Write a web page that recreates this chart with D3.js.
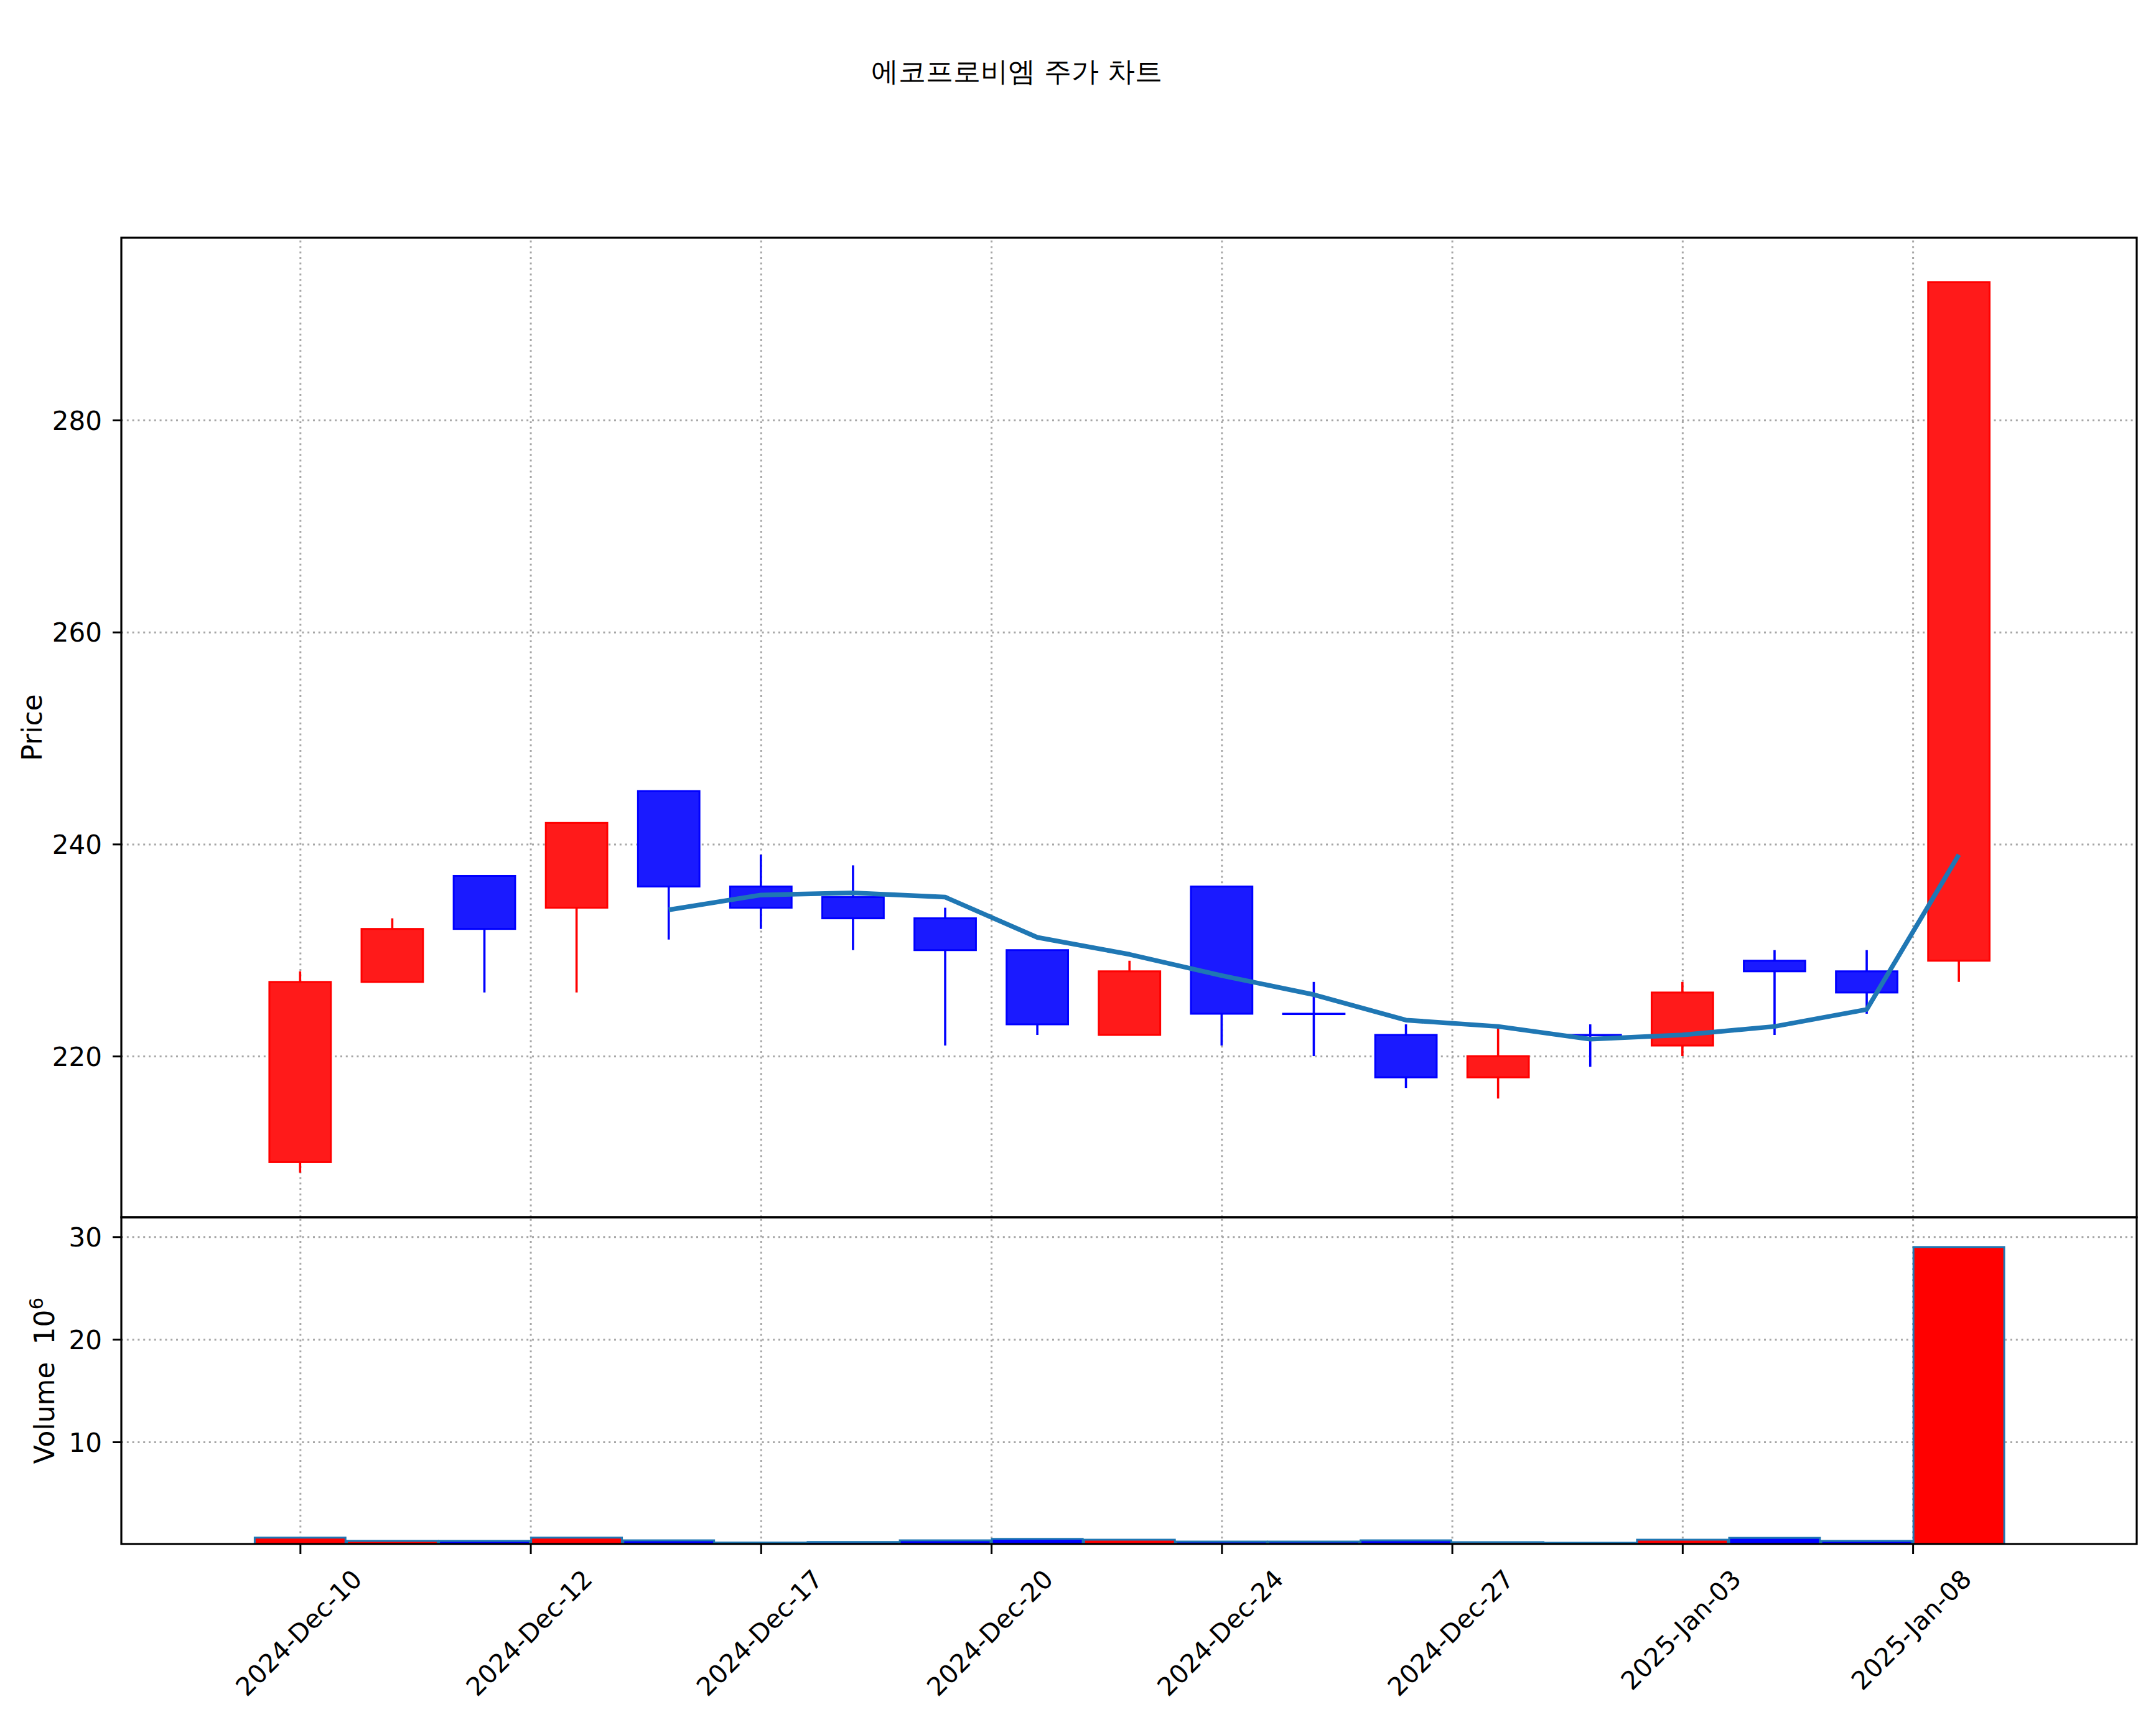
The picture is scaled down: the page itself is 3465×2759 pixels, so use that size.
<!DOCTYPE html>
<html><head><meta charset="utf-8">
<script src="https://cdn.jsdelivr.net/npm/d3@7"></script>
<style>
html,body{margin:0;padding:0;background:#fff;}
svg{display:block;}
text{font-family:"DejaVu Sans", sans-serif; fill:#000;}
</style></head><body>
<svg id="chart" width="3465" height="2759"></svg>
<script>
// ---------------- data ----------------
const titleText = "에코프로비엠 주가 차트";
const dates = ["2024-12-10","2024-12-11","2024-12-12","2024-12-13","2024-12-16","2024-12-17","2024-12-18",
  "2024-12-19","2024-12-20","2024-12-23","2024-12-24","2024-12-26","2024-12-27","2024-12-30",
  "2025-01-02","2025-01-03","2025-01-06","2025-01-07","2025-01-08"];
const opens  = [210,227,237,234,245,236,235,233,230,222,236,224,222,218,222,221,229,228,229];
const highs  = [228,233,237,242,245,239,238,234,230,229,236,227,223,223,223,227,230,230,293];
const lows   = [209,227,226,226,231,232,230,221,222,222,221,220,217,216,219,220,222,224,227];
const closes = [227,232,232,242,236,234,233,230,223,228,224,224,218,220,222,226,228,226,293];
const volumes = [0.67,0.35,0.35,0.67,0.41,0.19,0.25,0.41,0.55,0.47,0.29,0.29,0.41,0.23,0.17,0.47,0.65,0.35,29.0]; // x10^6
const ma5 = [null,null,null,null,233.8,235.2,235.4,235.0,231.2,229.6,227.6,225.8,223.4,222.8,221.6,222.0,222.8,224.4,239.0];
const xTickPos = [0,2.5,5,7.5,10,12.5,15,17.5];
const xTickLabels = ["2024-Dec-10","2024-Dec-12","2024-Dec-17","2024-Dec-20","2024-Dec-24","2024-Dec-27","2025-Jan-03","2025-Jan-08"];
const priceTicks = [220,240,260,280];
const volumeTicks = [10,20,30];

// ---------------- layout ----------------
const W = 3465, H = 2759;
const L = 195, R = 3434, T1 = 382, B1 = 1956, T2 = 1956, B2 = 2481;
const svg = d3.select("#chart");
svg.append("rect").attr("width", W).attr("height", H).attr("fill", "#fff");

const n = opens.length;
const idx = d3.range(n);
const pr = d3.max(highs) - d3.min(lows);
const x = d3.scaleLinear().domain([-1.94, 19.93]).range([L, R]);
const yP = d3.scaleLinear().domain([d3.min(lows) - 0.05 * pr, d3.max(highs) + 0.05 * pr]).range([B1, T1]);
const yV = d3.scaleLinear().domain([0.3 * d3.min(volumes), 1.1 * d3.max(volumes)]).range([B2, T2]);

const up = i => closes[i] > opens[i];
const edgeCol = i => up(i) ? "#ff0000" : "#0000ff";
const bodyFill = i => up(i) ? "#ff1a1a" : "#1a1aff";

const defs = svg.append("defs");
defs.append("clipPath").attr("id", "clipP").append("rect").attr("x", L).attr("y", T1).attr("width", R - L).attr("height", B1 - T1);
defs.append("clipPath").attr("id", "clipV").append("rect").attr("x", L).attr("y", T2).attr("width", R - L).attr("height", B2 - T2);

const gridStyle = g => {
  g.select(".domain").remove();
  g.selectAll("text").remove();
  g.selectAll("line").attr("stroke", "#a6a6a6").attr("stroke-width", 3).attr("stroke-dasharray", "3 5.8");
};

// grids
svg.append("g").attr("transform", `translate(${L},0)`)
  .call(d3.axisLeft(yP).tickValues(priceTicks).tickSize(-(R - L))).call(gridStyle);
svg.append("g").attr("transform", `translate(0,${B1})`)
  .call(d3.axisBottom(x).tickValues(xTickPos).tickSize(-(B1 - T1))).call(gridStyle);
svg.append("g").attr("transform", `translate(${L},0)`)
  .call(d3.axisLeft(yV).tickValues(volumeTicks).tickSize(-(R - L))).call(gridStyle);
svg.append("g").attr("transform", `translate(0,${B2})`)
  .call(d3.axisBottom(x).tickValues(xTickPos).tickSize(-(B2 - T2))).call(gridStyle);

// candles
const gP = svg.append("g").attr("clip-path", "url(#clipP)");
const bw = x(0.667) - x(0);
gP.selectAll("line.wick").data(idx).join("line").attr("class", "wick")
  .attr("x1", i => x(i)).attr("x2", i => x(i))
  .attr("y1", i => yP(highs[i])).attr("y2", i => yP(lows[i]))
  .attr("stroke", edgeCol).attr("stroke-width", 3.6);
gP.selectAll("rect.body").data(idx).join("rect").attr("class", "body")
  .attr("x", i => x(i) - bw / 2).attr("width", bw)
  .attr("y", i => yP(Math.max(opens[i], closes[i])))
  .attr("height", i => Math.max(0.6, Math.abs(yP(opens[i]) - yP(closes[i]))))
  .attr("fill", bodyFill).attr("stroke", edgeCol).attr("stroke-width", 3);

// moving average
const maLine = d3.line().defined(d => d != null).x((d, i) => x(i)).y(d => yP(d));
gP.append("path").datum(ma5).attr("d", maLine).attr("fill", "none")
  .attr("stroke", "#1f77b4").attr("stroke-width", 7.5).attr("stroke-linejoin", "round");

// volume bars
const gV = svg.append("g").attr("clip-path", "url(#clipV)");
const vw = x(0.985) - x(0);
gV.selectAll("rect.vol").data(idx).join("rect").attr("class", "vol")
  .attr("x", i => x(i) - vw / 2).attr("width", vw)
  .attr("y", i => yV(volumes[i])).attr("height", i => yV(0) - yV(volumes[i]))
  .attr("fill", i => up(i) ? "#ff0000" : "#0000ff")
  .attr("stroke", "#1f77b4").attr("stroke-width", 3);

// spines
[[T1, B1], [T2, B2]].forEach(([t, b]) => {
  svg.append("rect").attr("x", L).attr("y", t).attr("width", R - L).attr("height", b - t)
    .attr("fill", "none").attr("stroke", "#000").attr("stroke-width", 3.2);
});

// y axes
const yAxisStyle = g => {
  g.select(".domain").remove();
  g.selectAll("line").attr("stroke", "#000").attr("stroke-width", 3);
  g.selectAll("text").attr("font-size", 42).attr("font-family", "DejaVu Sans").attr("dy", "0.36em");
};
svg.append("g").attr("transform", `translate(${L},0)`)
  .call(d3.axisLeft(yP).tickValues(priceTicks).tickSize(14).tickPadding(17)).call(yAxisStyle);
svg.append("g").attr("transform", `translate(${L},0)`)
  .call(d3.axisLeft(yV).tickValues(volumeTicks).tickSize(14).tickPadding(17)).call(yAxisStyle);

// x axis (bottom of volume panel)
const xg = svg.append("g").attr("transform", `translate(0,${B2})`)
  .call(d3.axisBottom(x).tickValues(xTickPos).tickFormat((d, i) => xTickLabels[i]).tickSize(16));
xg.select(".domain").remove();
xg.selectAll("line").attr("stroke", "#000").attr("stroke-width", 3);
const xfs = 41;
xg.selectAll("text").each(function (d) {
  const t = d3.select(this);
  t.attr("font-size", xfs).attr("font-family", "DejaVu Sans").attr("y", null).attr("dy", null)
    .attr("text-anchor", "middle");
  const len = this.getComputedTextLength();
  const side = (len + 0.73 * xfs) / Math.SQRT2;
  const cy = 2519 - B2 + side / 2;
  t.attr("x", 0).attr("y", 0).attr("dy", "0.36em")
    .attr("transform", `translate(-3,${cy}) rotate(-45)`);
});

// axis labels
svg.append("text").attr("transform", `translate(67,${(T1 + B1) / 2}) rotate(-90)`)
  .attr("text-anchor", "middle").attr("font-size", 44).text("Price");
const vl = svg.append("text").attr("transform", `translate(87,${(T2 + B2) / 2}) rotate(-90)`)
  .attr("text-anchor", "middle").attr("font-size", 44).attr("xml:space", "preserve");
vl.append("tspan").text("Volume\u00a0\u00a010");
vl.append("tspan").attr("font-size", 31).attr("dy", -18).text("6");

// title
svg.append("text").attr("x", 1634).attr("y", 130).attr("text-anchor", "middle")
  .attr("font-family", "'Noto Sans CJK KR', 'DejaVu Sans', sans-serif").attr("font-size", 44)
  .text(titleText);
</script>
</body></html>
